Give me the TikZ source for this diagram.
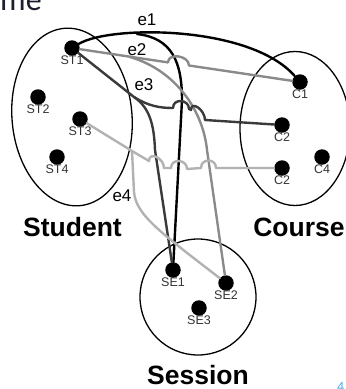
\documentclass[tikz,border=0pt]{standalone}
\usepackage{fontspec}
\setmainfont{Liberation Sans}
\newfontfamily\titlefont{Carlito}
\usepackage{tikz}
\usetikzlibrary{positioning}
\definecolor{edgeDark}{RGB}{58,58,58}
\definecolor{edgeMid}{RGB}{138,138,138}
\definecolor{edgeLight}{RGB}{178,178,178}
\definecolor{titleInk}{RGB}{28,32,46}
\definecolor{pageBlue}{RGB}{80,170,230}

\begin{document}
\begin{tikzpicture}[x=1pt,y=-1pt,
    entity/.style={circle, fill=black, minimum size=15.5pt, inner sep=0pt,
      label distance=6pt},
    tag/.style={font=\fontsize{12.5}{12.5}\selectfont, text=black!80, inner sep=0pt},
    setname/.style={font=\fontsize{26.5}{26.5}\selectfont\bfseries, inner sep=0pt},
    edgename/.style={font=\fontsize{17}{17}\selectfont, inner sep=0pt},
    setline/.style={line width=1.3pt},
    hyper/.style={line width=2.4pt, line cap=round, line join=round}
  ]
  \path[use as bounding box] (0,0) rectangle (346,389);
  \clip (0,0) rectangle (346,389);

  % slide leftovers
  \node[anchor=base west, inner sep=0pt, text=titleInk,
    font=\titlefont\fontsize{32}{32}\selectfont] (title) at (0,10) {me};
  \node[anchor=north west, inner sep=0pt, text=pageBlue,
    font=\titlefont\fontsize{14}{14}\selectfont] (page) at (337,382) {4};

  % sets
  \draw[setline, rotate around={5:(72,117)}] (72,117) ellipse [x radius=60, y radius=89];
  \draw[setline] (295,128.5) ellipse [x radius=55, y radius=77];
  \draw[setline] (198,297) circle [radius=58];
  \node[setname] (student) at (72.5,227) {Student};
  \node[setname] (course) at (299,227) {Course};
  \node[setname] (session) at (198,375) {Session};

  % members
  \node[entity, label={[tag]below:ST1}] (ST1) at (72,48) {};
  \node[entity, label={[tag]below:ST2}] (ST2) at (38,97) {};
  \node[entity, label={[tag]below:ST3}] (ST3) at (80,119) {};
  \node[entity, label={[tag]below:ST4}] (ST4) at (57,157) {};
  \node[entity, label={[tag]below:C1}] (C1) at (300,82) {};
  \node[entity, label={[tag]below:C2}] (C2a) at (282,125) {};
  \node[entity, label={[tag]below:C2}] (C2b) at (282,168) {};
  \node[entity, label={[tag]below:C4}] (C4) at (322,157) {};
  \node[entity, label={[tag]below:SE1}] (SE1) at (173,270) {};
  \node[entity, label={[tag]below:SE2}] (SE2) at (226,283) {};
  \node[entity, label={[tag]below:SE3}] (SE3) at (199,308) {};

  % hyperedges
  \coordinate (e1b) at (137,34);
  \coordinate (e2b) at (130,57);
  \coordinate (e3b) at (134,97);
  \coordinate (e4b) at (132,151);

  \draw[hyper] (ST1) .. controls (110,25) and (250,25) .. (C1);
  \draw[hyper] (e1b) .. controls (172,38) and (182,62) .. (182,100) -- (SE1);

  \draw[hyper, edgeMid] (ST1) -- (168,62.4)
    .. controls +(0,-10) and +(0,-10) .. (189,65.5) -- (C1);
  \draw[hyper, edgeMid] (e2b) .. controls (175,70) and (203,110) .. (207,150) -- (SE2);

  \draw[hyper, edgeDark] (ST1) -- (e3b) .. controls (148,106) and (160,108) .. (173,108)
    .. controls +(0,-10) and +(0,-10) .. (189,109) -- (191,110)
    .. controls +(0,-10) and +(0,-10) .. (205,120) -- (C2a);
  \draw[hyper, edgeDark] (e3b) .. controls (150,108) and (154,125) .. (155,150) -- (SE1);

  \draw[hyper, edgeLight] (ST3) -- (e4b) -- (149,161)
    .. controls +(0,-10) and +(0,-10) .. (164,168) -- (171,168)
    .. controls +(0,-10) and +(0,-10) .. (187,169) -- (201,168)
    .. controls +(0,-10) and +(0,-10) .. (216,168) -- (C2b);
  \draw[hyper, edgeLight] (e4b) -- (134,192) .. controls (136,215) and (160,232) .. (SE2);

  \node[edgename] (e1) at (147,20) {e1};
  \node[edgename] (e2) at (137,50) {e2};
  \node[edgename] (e3) at (144,85) {e3};
  \node[edgename] (e4) at (122,196) {e4};
\end{tikzpicture}
\end{document}
